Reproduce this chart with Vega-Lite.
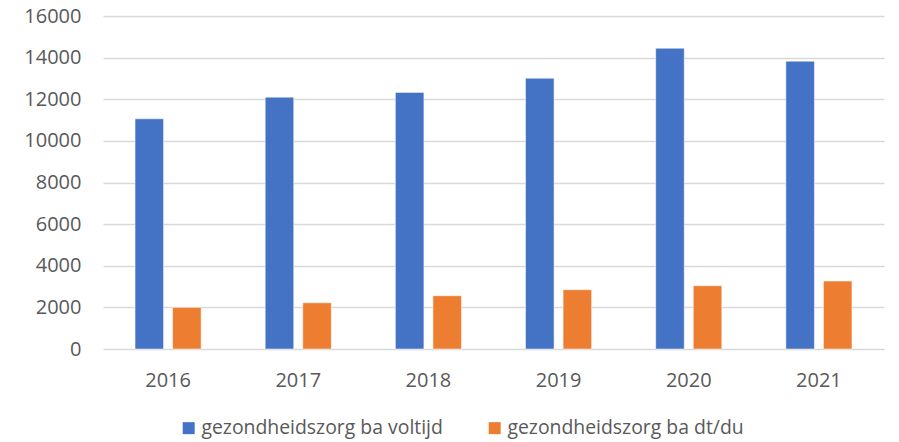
{
  "$schema": "https://vega.github.io/schema/vega-lite/v6.json",
  "width": 781,
  "height": 333,
  "autosize": {"type": "none"},
  "padding": {"left": 103, "top": 16, "right": 15, "bottom": 93},
  "background": "white",
  "config": {"view": {"stroke": null}, "font": "Open Sans"},
  "data": {
    "values": [
      {"year": "2016", "series": "gezondheidszorg ba voltijd", "value": 11060},
      {"year": "2016", "series": "gezondheidszorg ba dt/du", "value": 2000},
      {"year": "2017", "series": "gezondheidszorg ba voltijd", "value": 12100},
      {"year": "2017", "series": "gezondheidszorg ba dt/du", "value": 2220},
      {"year": "2018", "series": "gezondheidszorg ba voltijd", "value": 12330},
      {"year": "2018", "series": "gezondheidszorg ba dt/du", "value": 2560},
      {"year": "2019", "series": "gezondheidszorg ba voltijd", "value": 13010},
      {"year": "2019", "series": "gezondheidszorg ba dt/du", "value": 2850},
      {"year": "2020", "series": "gezondheidszorg ba voltijd", "value": 14450},
      {"year": "2020", "series": "gezondheidszorg ba dt/du", "value": 3040},
      {"year": "2021", "series": "gezondheidszorg ba voltijd", "value": 13830},
      {"year": "2021", "series": "gezondheidszorg ba dt/du", "value": 3265}
    ]
  },
  "mark": {"type": "bar", "stroke": "#ffffff", "strokeOpacity": 0.5, "strokeWidth": 1},
  "encoding": {
    "x": {
      "field": "year",
      "type": "nominal",
      "scale": {"paddingInner": 0, "paddingOuter": 0},
      "axis": {"title": null, "labelAngle": 0, "domain": false, "ticks": false, "grid": false, "labelPadding": 21, "labelFontSize": 20, "labelColor": "#595959"}
    },
    "xOffset": {
      "field": "series",
      "type": "nominal",
      "sort": ["gezondheidszorg ba voltijd", "gezondheidszorg ba dt/du"],
      "scale": {"paddingInner": 0.24, "paddingOuter": 0.853}
    },
    "y": {
      "field": "value",
      "type": "quantitative",
      "scale": {"domain": [0, 16000], "nice": false},
      "axis": {"title": null, "values": [0, 2000, 4000, 6000, 8000, 10000, 12000, 14000, 16000], "format": "d", "domain": false, "ticks": false, "labelPadding": 22, "labelFontSize": 20, "labelColor": "#595959", "gridColor": "#D9D9D9", "gridWidth": 1.5}
    },
    "color": {
      "field": "series",
      "type": "nominal",
      "sort": ["gezondheidszorg ba voltijd", "gezondheidszorg ba dt/du"],
      "scale": {"range": ["#4472C4", "#ED7D31"]},
      "legend": {"title": null, "orient": "none", "legendX": 76, "legendY": 402, "direction": "horizontal", "symbolType": "square", "symbolSize": 144, "symbolStrokeWidth": 0, "labelFontSize": 19.4, "labelLimit": 0, "labelColor": "#595959", "labelOffset": 3, "columnPadding": 42}
    }
  }
}
